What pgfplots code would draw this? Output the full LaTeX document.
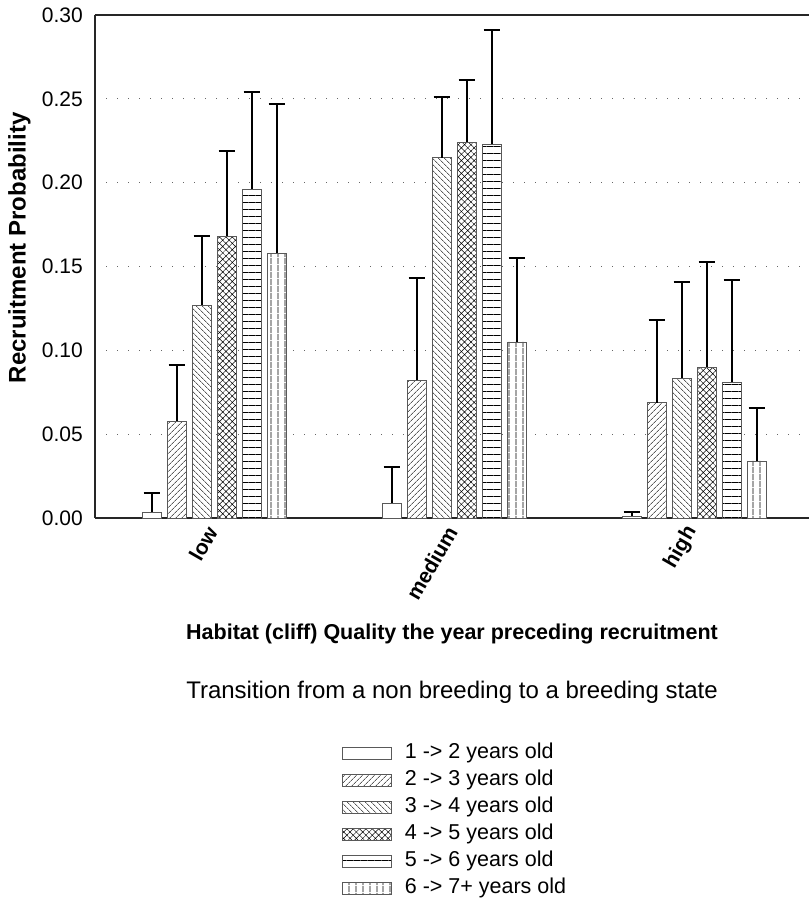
\documentclass[border=0pt]{standalone}
\usepackage{pgfplots}
\pgfplotsset{compat=1.18}
\usepackage{fontspec}
\setmainfont{Liberation Sans}
\usetikzlibrary{patterns.meta}

\pgfplotstableread{
x y e
0 0.0035 0.0113
1 0.0088 0.0218
2 0.0012 0.0024
}\seriesA
\pgfplotstableread{
x y e
0 0.0577 0.0333
1 0.0823 0.0607
2 0.0687 0.0493
}\seriesB
\pgfplotstableread{
x y e
0 0.127 0.041
1 0.215 0.036
2 0.0833 0.0574
}\seriesC
\pgfplotstableread{
x y e
0 0.168 0.051
1 0.224 0.0375
2 0.090 0.0626
}\seriesD
\pgfplotstableread{
x y e
0 0.196 0.058
1 0.223 0.068
2 0.081 0.061
}\seriesE
\pgfplotstableread{
x y e
0 0.158 0.089
1 0.105 0.050
2 0.034 0.0319
}\seriesF

\begin{document}
\begin{tikzpicture}
\begin{axis}[
  at={(95pt,384pt)}, anchor=south west,
  scale only axis,
  width=714pt, height=503pt,
  ybar, bar width=19pt,
  xmin=-0.496, xmax=2.479,
  ymin=0, ymax=0.30,
  separate axis lines,
  axis x line*=box,
  axis y line*=left,
  axis line style={line width=1.2pt, black!85},
  xtick={0,1,2},
  xticklabels={low,medium,high},
  ytick={0,0.05,0.10,0.15,0.20,0.25,0.30},
  major tick length=0pt,
  ymajorgrids,
  grid style={line width=1pt, dash pattern=on 1pt off 10pt, black!60},
  /pgf/number format/assume math mode=true,
  yticklabel style={/pgf/number format/.cd, fixed, fixed zerofill, precision=2, /tikz/.cd,
     font=\fontsize{21}{25}\selectfont, inner sep=0pt, xshift=-12pt},
  xticklabel style={font=\fontsize{21}{25}\selectfont\bfseries, xshift=-2pt, yshift=-10pt, rotate=60, anchor=east, inner sep=0pt},
  ylabel={Recruitment Probability},
  ylabel style={font=\fontsize{24}{28}\selectfont\bfseries, at={(axis description cs:-0.106,0.537)}, anchor=center},
  xlabel={Habitat (cliff) Quality the year preceding recruitment},
  xlabel style={font=\fontsize{21.5}{25}\selectfont\bfseries, at={(axis description cs:0.5,-0.2306)}, anchor=center},
  legend cell align=left,
  legend style={at={(axis description cs:0.346,-0.449)}, anchor=north west, draw=none, fill=none,
     inner sep=0pt, outer sep=0pt, row sep=7pt,
     nodes={font=\fontsize{21.5}{25}\selectfont, inner sep=0pt, text height=15pt, text depth=5pt},
     /tikz/every odd column/.append style={column sep=13pt}},
  error bars/y dir=plus,
  error bars/y explicit,
  error bars/error bar style={line width=2pt, draw=black},
  error bars/error mark options={rotate=90, mark size=8pt, line width=2pt, draw=black},
  mybar/.style={draw=black!65, line width=0.8pt, fill=white,
     legend image code/.code={\draw[##1] (0pt,-6pt) rectangle (49pt,6pt);}},
  clip=false,
]
\addplot[mybar, bar shift=-62.5pt] table[x=x, y=y, y error=e] {\seriesA};
\addplot[mybar, bar shift=-37.5pt, postaction={pattern={Lines[angle=45, distance=4pt, line width=0.5pt]}}] table[x=x, y=y, y error=e] {\seriesB};
\addplot[mybar, bar shift=-12.5pt, postaction={pattern={Lines[angle=-45, distance=4pt, line width=0.5pt]}}] table[x=x, y=y, y error=e] {\seriesC};
\addplot[mybar, bar shift=12.5pt, postaction={pattern={Hatch[angle=45, distance=4.5pt, line width=0.5pt]}}] table[x=x, y=y, y error=e] {\seriesD};
\addplot[mybar, bar shift=37.5pt, postaction={pattern={Lines[angle=0, distance=7pt, line width=0.8pt]}}] table[x=x, y=y, y error=e] {\seriesE};
\addplot[mybar, bar shift=62.5pt, postaction={pattern={Lines[angle=90, distance=6.5pt, line width=0.8pt]}}] table[x=x, y=y, y error=e] {\seriesF};
\legend{1 -> 2 years old, 2 -> 3 years old, 3 -> 4 years old, 4 -> 5 years old, 5 -> 6 years old, 6 -> 7+ years old}
\node[font=\fontsize{24}{28}\selectfont] at (axis description cs:0.5,-0.346) {Transition from a non breeding to a breeding state};
\end{axis}
\pgfresetboundingbox
\path[use as bounding box] (0,0) rectangle (809pt,902pt);
\end{tikzpicture}
\end{document}
